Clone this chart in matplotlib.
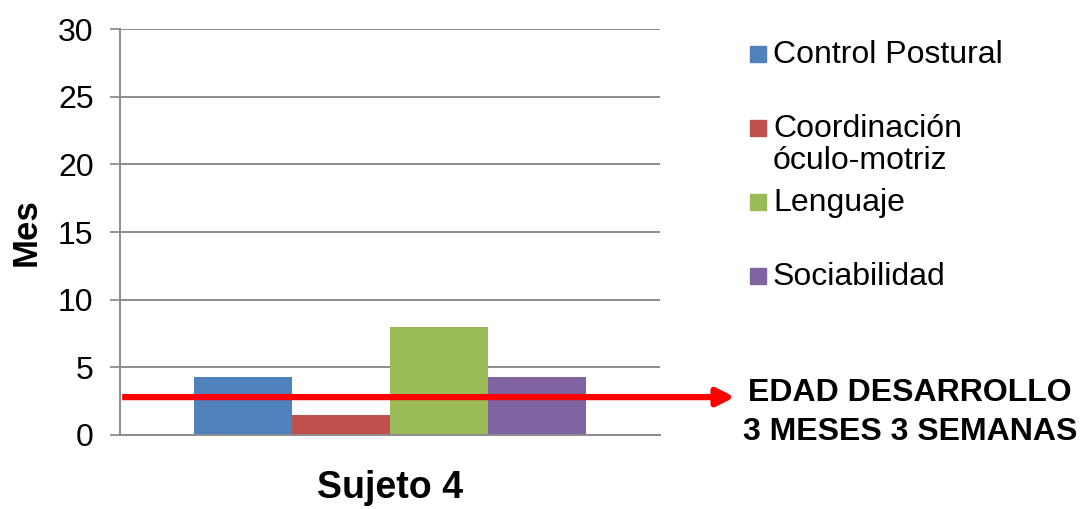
import numpy as np
import matplotlib.pyplot as plt
from matplotlib.patches import Rectangle

plt.rcParams['font.family'] = ['Liberation Sans', 'DejaVu Sans']

series = ['Control Postural', 'Coordinación\nóculo-motriz', 'Lenguaje', 'Sociabilidad']
values = [4.3, 1.5, 8.0, 4.3]
colors = ['#4F81BD', '#C0504D', '#9BBB59', '#8064A2']
category = 'Sujeto 4'
edad_desarrollo = 2.8
edad_texto = 'EDAD DESARROLLO\n3 MESES 3 SEMANAS'
yticks = [0, 5, 10, 15, 20, 25, 30]

fig = plt.figure(figsize=(10.81, 5.09), dpi=100)
ax = fig.add_axes([0.111, 0.1454, 0.4995, 0.7976])

grid_col = '#8C8C8C'
bar_w = 0.1815
for i, (v, c) in enumerate(zip(values, colors)):
    ax.bar((i - 1.5) * bar_w, v, width=bar_w, color=c, zorder=2)

ax.set_xlim(-0.5, 0.5)
ax.set_ylim(0, 30)
ax.set_yticks(yticks)
ax.tick_params(axis='y', labelsize=23, length=7, width=1.3, color=grid_col, pad=12)
ax.set_xticks([0])
ax.set_xticklabels([category], fontsize=27, fontweight='bold')
ax.tick_params(axis='x', length=0, pad=25)
ax.yaxis.grid(True, color=grid_col, lw=1.4, zorder=0)
ax.set_axisbelow(True)
for s in ['top', 'right']:
    ax.spines[s].set_visible(False)
ax.spines['left'].set_color(grid_col)
ax.spines['left'].set_linewidth(1.4)
ax.spines['bottom'].set_color(grid_col)
ax.spines['bottom'].set_linewidth(1.4)
ax.set_ylabel('Mes', fontsize=25, fontweight='bold', labelpad=11)

# red arrow for developmental age
ax.annotate('', xy=(1.139, edad_desarrollo), xycoords=ax.get_yaxis_transform(),
            xytext=(0.004, edad_desarrollo), textcoords=ax.get_yaxis_transform(),
            arrowprops=dict(arrowstyle='-|>', color='#FF0000', lw=4.5,
                            mutation_scale=26, shrinkA=0, shrinkB=0, capstyle='butt'),
            zorder=5, annotation_clip=False)
fig.text(0.842, 0.189, edad_texto, ha='center', va='center', fontsize=23,
         fontweight='bold', linespacing=1.4)

# legend drawn by hand (Excel style)
W, H = fig.get_size_inches() * fig.dpi
for i, (name, c) in enumerate(zip(series, colors)):
    yc = 54 + 74 * i
    fig.patches.append(Rectangle((750 / W, 1 - (yc + 8) / H), 16 / W, 16 / H,
                                 transform=fig.transFigure, color=c))
    for j, line in enumerate(name.split('\n')):
        fig.text(773 / W, 1 - (yc + 1 + 32 * j) / H, line, ha='left', va='center',
                 fontsize=23, transform=fig.transFigure)

fig.savefig('out.png', dpi=100)
